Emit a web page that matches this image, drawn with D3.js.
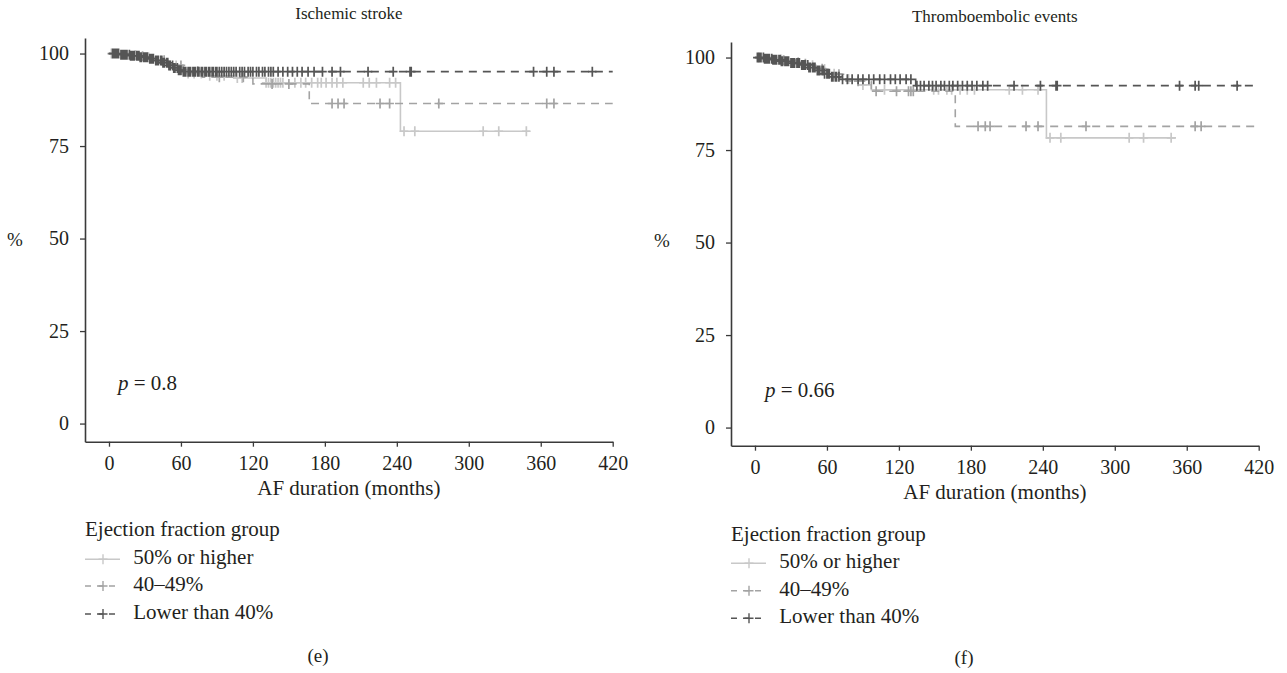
<!DOCTYPE html>
<html>
<head>
<meta charset="utf-8">
<script src="https://cdn.jsdelivr.net/npm/d3@7"></script>
<style>
  body { margin: 0; background: #fff; }
  text { font-family: "Liberation Serif", "Times New Roman", serif; fill: #231f20; }
</style>
</head>
<body>
<svg id="chart" width="1287" height="673"></svg>
<script>
// ---- axis ticks and group names ----
const xTicks = [0, 60, 120, 180, 240, 300, 360, 420];
const yTicks = [0, 25, 50, 75, 100];
const groupNames = ["50% or higher", "40\u201349%", "Lower than 40%"];

// ---- (e) Ischemic stroke: step times (months), survival (%), censoring times ----
const strokeHighTimes = [0, 14, 28, 40, 50, 58, 66, 82, 104, 131, 243];
const strokeHighSurv  = [100, 99.6, 99.0, 98.0, 96.8, 95.6, 94.6, 94.0, 93.4, 92.1, 79.0];
const strokeHighEnd = 351;
const strokeHighCensor = [2, 22, 33, 44, 51, 56, 61, 66, 71, 77, 84, 90, 96, 107, 111, 131, 133, 135, 137, 139, 141, 143, 145, 155, 160, 164, 169, 174, 177, 181, 186, 190, 195, 212, 217, 223, 234, 239, 246, 255, 312, 325, 348];

const strokeMidTimes = [0, 20, 36, 50, 62, 78, 120, 167];
const strokeMidSurv  = [100, 99.3, 98.2, 96.8, 95.2, 93.6, 91.8, 86.5];
const strokeMidEnd = 420;
const strokeMidCensor = [28, 46, 60, 74, 92, 112, 136, 150, 186, 191, 196, 226, 234, 275, 365, 371];

const strokeLowTimes = [0, 10, 18, 26, 33, 39, 45, 50, 54, 58, 62];
const strokeLowSurv  = [100, 99.7, 99.4, 99.0, 98.6, 98.1, 97.5, 96.8, 96.1, 95.5, 95.1];
const strokeLowEnd = 420;
const strokeLowCensor = [3, 4, 5, 6, 7, 8, 10, 11, 12, 13, 14, 15, 17, 18, 19, 20, 21, 23, 24, 25, 26, 27, 29, 30, 31, 32, 34, 35, 36, 37, 39, 40, 41, 43, 44, 45, 46, 48, 49, 50, 51, 53, 54, 55, 57, 58, 59, 60, 62, 63, 64, 66, 67, 68, 70, 71, 72, 74, 75, 77, 78, 80, 81, 83, 84, 86, 87, 89, 90, 92, 94, 96, 98, 100, 102, 104, 106, 109, 111, 113, 116, 118, 120, 123, 125, 128, 130, 133, 135, 137, 141, 145, 149, 153, 157, 161, 166, 171, 178, 186, 193, 216, 237, 251, 252, 354, 365, 371, 403];

// ---- (f) Thromboembolic events ----
const thromboHighTimes = [0, 14, 28, 40, 50, 60, 72, 86, 97, 243];
const thromboHighSurv  = [100, 99.5, 98.8, 97.9, 96.9, 95.6, 94.2, 92.6, 91.3, 78.3];
const thromboHighEnd = 351;
const thromboHighCensor = [3, 22, 36, 48, 58, 66, 78, 90, 108, 149, 153, 160, 164, 171, 177, 183, 212, 223, 236, 246, 255, 312, 324, 347];

const thromboMidTimes = [0, 18, 34, 48, 60, 76, 97, 167];
const thromboMidSurv  = [100, 99.3, 98.3, 97.0, 95.5, 93.6, 90.9, 81.4];
const thromboMidEnd = 420;
const thromboMidCensor = [24, 42, 56, 70, 86, 101, 118, 128, 130, 132, 186, 192, 196, 226, 236, 276, 367, 372];

const thromboLowTimes = [0, 8, 15, 22, 30, 38, 45, 52, 58, 64, 71, 134];
const thromboLowSurv  = [100, 99.7, 99.4, 99.0, 98.5, 98.0, 97.3, 96.5, 95.6, 94.8, 94.1, 92.4];
const thromboLowEnd = 420;
const thromboLowCensor = [2, 3, 4, 5, 7, 8, 9, 10, 11, 12, 14, 15, 16, 17, 18, 20, 21, 22, 23, 25, 26, 27, 28, 30, 31, 32, 33, 35, 36, 37, 39, 40, 41, 42, 44, 45, 46, 48, 49, 50, 52, 53, 54, 56, 57, 58, 60, 61, 62, 64, 65, 67, 68, 70, 73, 77, 81, 86, 90, 95, 99, 104, 108, 113, 117, 121, 126, 130, 135, 138, 141, 145, 148, 151, 155, 158, 162, 165, 169, 173, 177, 181, 185, 190, 194, 216, 238, 251, 252, 354, 367, 370, 402];

// ---- styles for each group ----
const groupStyle = [
  { color: "#c8c8c8", dash: null },
  { color: "#a3a3a3", dash: "8,6" },
  { color: "#555555", dash: "8,6" }
];

const panels = [
  {
    title: "Ischemic stroke", pText: "0.8", tag: "(e)",
    xRange: [85, 612.7], yRange: [441.7, 38], titleY: 15,
    pPos: [118, 385], pctX: 15, pctY: 242, xLabelY: 490,
    legend: { x: 85, titleY: 530.7, rowY: [559.3, 586, 614], textX: 133.3, tagX: 318, tagY: 658 },
    series: [
      { times: strokeHighTimes, surv: strokeHighSurv, end: strokeHighEnd, censor: strokeHighCensor },
      { times: strokeMidTimes, surv: strokeMidSurv, end: strokeMidEnd, censor: strokeMidCensor },
      { times: strokeLowTimes, surv: strokeLowSurv, end: strokeLowEnd, censor: strokeLowCensor }
    ]
  },
  {
    title: "Thromboembolic events", pText: "0.66", tag: "(f)",
    xRange: [731, 1258.7], yRange: [445.7, 42], titleY: 18,
    pPos: [765, 392], pctX: 662, pctY: 243, xLabelY: 494,
    legend: { x: 731, titleY: 536, rowY: [563.3, 590.7, 618.3], textX: 779.3, tagX: 964, tagY: 660 },
    series: [
      { times: thromboHighTimes, surv: thromboHighSurv, end: thromboHighEnd, censor: thromboHighCensor },
      { times: thromboMidTimes, surv: thromboMidSurv, end: thromboMidEnd, censor: thromboMidCensor },
      { times: thromboLowTimes, surv: thromboLowSurv, end: thromboLowEnd, censor: thromboLowCensor }
    ]
  }
];

const svg = d3.select("#chart");
const axisColor = "#3a3a3a";

function survivalAt(s, t) {
  let v = s.surv[0];
  for (let i = 0; i < s.times.length; i++) { if (s.times[i] <= t) v = s.surv[i]; }
  return v;
}

function crossPath(cx, cy, w, h) {
  return `M${cx - w},${cy}H${cx + w}M${cx},${cy - h}V${cy + h}`;
}

panels.forEach(p => {
  const x = d3.scaleLinear().domain([-20, 420]).range(p.xRange);
  const y = d3.scaleLinear().domain([-4.9, 104.2]).range(p.yRange);
  const g = svg.append("g");

  // title
  g.append("text").attr("x", (p.xRange[0] + p.xRange[1]) / 2).attr("y", p.titleY)
    .attr("text-anchor", "middle").attr("dominant-baseline", "middle")
    .style("font-size", "17px").text(p.title);

  // axes
  const yAxis = d3.axisLeft(y).tickValues(yTicks).tickSize(5).tickSizeOuter(0).tickPadding(11);
  const gy = g.append("g").attr("transform", `translate(${p.xRange[0]},0)`).call(yAxis);
  const xAxis = d3.axisBottom(x).tickValues(xTicks).tickSize(5).tickSizeOuter(0).tickPadding(9);
  const gx = g.append("g").attr("transform", `translate(0,${p.yRange[0]})`).call(xAxis);
  [gx, gy].forEach(a => {
    a.attr("font-family", null).attr("font-size", null);
    a.select(".domain").attr("stroke", axisColor).attr("stroke-width", 1.6);
    a.selectAll(".tick line").attr("stroke", axisColor).attr("stroke-width", 1.3);
    a.selectAll(".tick text").style("font-size", "20px").attr("fill", "#231f20");
  });

  // axis titles
  g.append("text").attr("x", (p.xRange[0] + p.xRange[1]) / 2).attr("y", p.xLabelY)
    .attr("text-anchor", "middle").attr("dominant-baseline", "middle")
    .style("font-size", "21px").text("AF duration (months)");
  g.append("text").attr("x", p.pctX).attr("y", p.pctY)
    .attr("text-anchor", "middle").attr("dominant-baseline", "middle")
    .style("font-size", "19px").text("%");

  // p-value
  const pt = g.append("text").attr("x", p.pPos[0]).attr("y", p.pPos[1])
    .attr("dominant-baseline", "middle").style("font-size", "21px");
  pt.append("tspan").style("font-style", "italic").text("p");
  pt.append("tspan").text(" = " + p.pText);

  // survival curves with censoring crosses
  const line = d3.line().x(d => x(d[0])).y(d => y(d[1])).curve(d3.curveStepAfter);
  p.series.forEach((s, i) => {
    const st = groupStyle[i];
    const pts = s.times.map((t, k) => [t, s.surv[k]]);
    pts.push([s.end, s.surv[s.surv.length - 1]]);
    g.append("path").datum(pts).attr("d", line)
      .attr("fill", "none").attr("stroke", st.color).attr("stroke-width", 1.6)
      .attr("stroke-dasharray", st.dash);
    g.append("path")
      .attr("d", s.censor.map(t => crossPath(x(t), y(survivalAt(s, t)), 4.3, 5)).join(""))
      .attr("fill", "none").attr("stroke", st.color).attr("stroke-width", 1.7);
  });

  // legend
  const lg = p.legend;
  g.append("text").attr("x", lg.x).attr("y", lg.titleY)
    .attr("dominant-baseline", "middle").style("font-size", "21px").text("Ejection fraction group");
  groupNames.forEach((name, i) => {
    const ly = lg.rowY[i];
    const st = groupStyle[i];
    g.append("line").attr("x1", lg.x).attr("x2", lg.x + 35)
      .attr("y1", ly).attr("y2", ly).attr("stroke", st.color).attr("stroke-width", 1.4)
      .attr("stroke-dasharray", st.dash ? "6,6" : null);
    g.append("path").attr("d", crossPath(lg.x + 18, ly, 4.5, 5))
      .attr("stroke", st.color).attr("stroke-width", 1.4).attr("fill", "none");
    g.append("text").attr("x", lg.textX).attr("y", ly)
      .attr("dominant-baseline", "middle").style("font-size", "21px").text(name);
  });
  g.append("text").attr("x", lg.tagX).attr("y", lg.tagY)
    .attr("text-anchor", "middle").attr("dominant-baseline", "middle")
    .style("font-size", "19px").text(p.tag);
});
</script>
</body>
</html>
